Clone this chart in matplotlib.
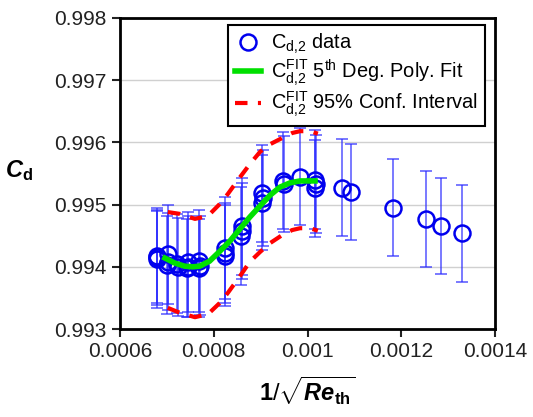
import numpy as np
import matplotlib
matplotlib.use('Agg')
import matplotlib.pyplot as plt

plt.rcParams['font.family'] = ['Liberation Sans', 'DejaVu Sans']
plt.rcParams['mathtext.fontset'] = 'custom'
plt.rcParams['mathtext.rm'] = 'Liberation Sans'
plt.rcParams['mathtext.it'] = 'Liberation Sans:italic:bold'
plt.rcParams['mathtext.bf'] = 'Liberation Sans:bold'

# measured points (clusters of repeated runs)
x_data = [0.000679, 0.000680, 0.000678,
          0.000702, 0.000703, 0.000701,
          0.000722, 0.000723,
          0.000745, 0.000746, 0.000744,
          0.000769, 0.000770, 0.000768,
          0.000824, 0.000825, 0.000823,
          0.000860, 0.000861, 0.000859,
          0.000903, 0.000904, 0.000902,
          0.000948, 0.000949,
          0.000984,
          0.001016, 0.001017, 0.001015,
          0.001074, 0.001093, 0.001182, 0.001253, 0.001285, 0.001330]
y_data = [0.99415, 0.99412, 0.99418,
          0.99420, 0.99408, 0.99403,
          0.99405, 0.99400,
          0.99408, 0.99400, 0.99398,
          0.99410, 0.99402, 0.99398,
          0.99430, 0.99422, 0.99418,
          0.99465, 0.99457, 0.99450,
          0.99518, 0.99510, 0.99503,
          0.99538, 0.99533,
          0.99545,
          0.99540, 0.99533, 0.99526,
          0.99527, 0.99520, 0.99495, 0.99477, 0.99466, 0.99454]
y_err = [0.00077, 0.00078, 0.00076,
         0.00080, 0.00078, 0.00079,
         0.00080, 0.00079,
         0.00080, 0.00081, 0.00079,
         0.00082, 0.00080, 0.00079,
         0.00082, 0.00080, 0.00081,
         0.00078, 0.00077, 0.00079,
         0.00078, 0.00077, 0.00076,
         0.00078, 0.00077,
         0.00078,
         0.00080, 0.00079, 0.00078,
         0.00078, 0.00077, 0.00078, 0.00077, 0.00077, 0.00078]

# 5th degree polynomial fit
fit_x = [0.000696, 0.000717, 0.000738, 0.000755, 0.000770, 0.000791, 0.000813,
         0.000834, 0.000856, 0.000877, 0.000899, 0.000920, 0.000941, 0.000963,
         0.000984, 0.001005, 0.001016]
fit_y = [0.99414, 0.99406, 0.99401, 0.99400, 0.99401, 0.99409, 0.99425,
         0.99441, 0.99461, 0.99480, 0.99498, 0.99515, 0.99528, 0.99535,
         0.99538, 0.99538, 0.99538]

# 95% confidence band
ci_x = [0.000702, 0.000728, 0.000760, 0.000788, 0.000813, 0.000830, 0.000856,
        0.000877, 0.000899, 0.000920, 0.000946, 0.000967, 0.000984, 0.001005,
        0.001022]
ci_upper = [0.99488, 0.99485, 0.99477, 0.99482, 0.99501, 0.99517, 0.99544,
            0.99565, 0.99585, 0.99597, 0.99607, 0.99615, 0.99618, 0.99618,
            0.99614]
ci_lower = [0.99334, 0.99326, 0.99319, 0.99324, 0.99342, 0.99358, 0.99385,
            0.99408, 0.99424, 0.99438, 0.99451, 0.99459, 0.99462, 0.99462,
            0.99458]

fig = plt.figure(figsize=(5.33, 4.17), dpi=100)
ax = fig.add_axes([0.225, 0.211, 0.704, 0.746])

ax.set_axisbelow(True)
ax.yaxis.grid(True, color='#d0d0d0', lw=1)

ax.errorbar(x_data, y_data, yerr=y_err, fmt='none', ecolor='#2a2aff',
            elinewidth=1.1, capsize=4.5, capthick=1.1, alpha=0.8, zorder=2)
ax.plot(x_data, y_data, 'o', ms=11.5, mfc='none', mec='#0000ee', mew=1.8,
        zorder=3, label=r'$\mathrm{C}_{\mathrm{d{,}2}}$ data')
ax.plot(fit_x, fit_y, color='#00e000', lw=4, zorder=4,
        label=r'$\mathrm{C}_{\mathrm{d{,}2}}^{\mathrm{FIT}}$ 5$^{\mathrm{th}}$ Deg. Poly. Fit')
ax.plot(ci_x, ci_upper, color='#ff0000', lw=3, dashes=(3, 2.5), zorder=4,
        label=r'$\mathrm{C}_{\mathrm{d{,}2}}^{\mathrm{FIT}}$ 95% Conf. Interval')
ax.plot(ci_x, ci_lower, color='#ff0000', lw=3, dashes=(3, 2.5), zorder=4)

ax.set_xlim(0.0006, 0.0014)
ax.set_ylim(0.993, 0.998)
ax.set_xticks([0.0006, 0.0008, 0.001, 0.0012, 0.0014])
ax.set_xticklabels(['0.0006', '0.0008', '0.001', '0.0012', '0.0014'])
ax.set_yticks([0.993, 0.994, 0.995, 0.996, 0.997, 0.998])
ax.set_yticklabels(['0.993', '0.994', '0.995', '0.996', '0.997', '0.998'])
ax.tick_params(direction='out', length=6, width=1.5, labelsize=15, colors='#222222')
for s in ax.spines.values():
    s.set_linewidth(2)

ax.set_ylabel(r'$\mathit{C}_{\mathbf{d}}$', rotation=0, fontsize=17)
ax.yaxis.set_label_coords(-0.27, 0.47)
ax.set_xlabel(r'$\mathbf{1}/\sqrt{\mathit{Re}_{\mathbf{th}}}$', fontsize=17)
ax.xaxis.set_label_coords(0.5, -0.145)

leg = ax.legend(loc='upper left', bbox_to_anchor=(0.288, 0.977), borderaxespad=0,
                fontsize=14.4, handlelength=1.3, fancybox=False, framealpha=1,
                edgecolor='black', labelspacing=0.08, borderpad=0.35, handletextpad=0.5)
leg.get_frame().set_linewidth(1.5)

fig.savefig('out.png', dpi=100)
